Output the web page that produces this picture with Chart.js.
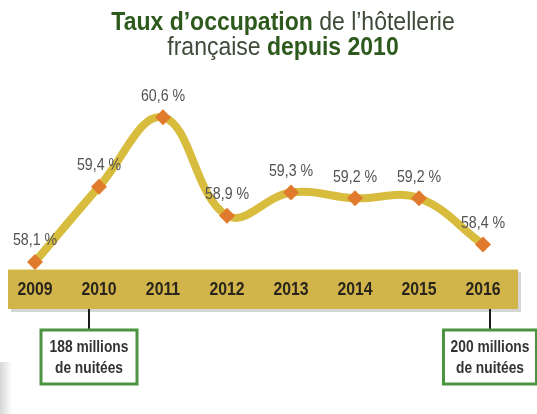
<!DOCTYPE html>
<html>
<head>
<meta charset="utf-8">
<script src="https://cdn.jsdelivr.net/npm/chart.js@4/dist/chart.umd.min.js"></script>
<style>
  html, body { margin: 0; padding: 0; background: #fff; overflow: hidden; }
  #wrap { position: relative; width: 537px; height: 414px; }
</style>
</head>
<body>
<div id="wrap"><canvas id="chart" width="537" height="414"></canvas></div>
<script>
	var years = ['2009', '2010', '2011', '2012', '2013', '2014', '2015', '2016'];
	var taux = [58.1, 59.4, 60.6, 58.9, 59.3, 59.2, 59.2, 58.4];
	var tauxLabels = taux.map(v => v.toFixed(1).replace('.', ',') + ' %');
	var noteYears = ['2010', '2016'];
	var noteTexts = [['188 millions', 'de nuitées'], ['200 millions', 'de nuitées']];

	var FONT = '"Liberation Sans", Arial, sans-serif';

	// narrow-looking text: squeeze horizontally
	function sxText(ctx, t, x, y, sx){
		ctx.save();
		ctx.translate(x, y);
		ctx.scale(sx, 1);
		ctx.fillText(t, 0, 0);
		ctx.restore();
	}

	// title with bold / regular runs, drawn centered
	function drawRuns(ctx, runs, cx, y, size, sx){
		let w = 0;
		runs.forEach(r => {
			ctx.font = (r.bold ? 'bold ' : '') + size + 'px ' + FONT;
			r.w = ctx.measureText(r.t).width * sx;
			w += r.w;
		});
		let x = cx - w / 2;
		ctx.textBaseline = 'alphabetic';
		ctx.textAlign = 'left';
		runs.forEach(r => {
			ctx.font = (r.bold ? 'bold ' : '') + size + 'px ' + FONT;
			ctx.fillStyle = r.bold ? '#2d5a1c' : '#3f4a38';
			sxText(ctx, r.t, x, y, sx);
			x += r.w;
		});
	}

	var decor = {
		id: 'decor',
		beforeDatasetsDraw(chart){
			const ctx = chart.ctx, xs = chart.scales.x, area = chart.chartArea;
			ctx.save();
			// titre
			drawRuns(ctx, [{t: 'Taux d\u2019occupation', bold: 1}, {t: ' de l\u2019hôtellerie'}], 283, 30, 25, 0.92);
			drawRuns(ctx, [{t: 'française '}, {t: 'depuis 2010', bold: 1}], 283, 55, 25, 0.92);

			// bande des années
			const top = area.bottom - 1, h = 40;
			ctx.fillStyle = 'rgba(0,0,0,0.16)';
			ctx.fillRect(11, top + 3, 510, h);
			ctx.fillStyle = '#d2b54a';
			ctx.fillRect(8, top, 510, h);
			ctx.fillStyle = '#f1e4a2';
			ctx.fillRect(8, top, 510, 1);

			ctx.font = 'bold 18px ' + FONT;
			ctx.fillStyle = '#2a251c';
			ctx.textAlign = 'center';
			ctx.textBaseline = 'middle';
			years.forEach((y, i) => sxText(ctx, y, xs.getPixelForValue(i), top + 21, 0.88));

			// encadrés nuitées
			noteYears.forEach((y, k) => {
				const px = xs.getPixelForValue(years.indexOf(y));
				const cx = k == 0 ? px - 10 : px + 7;
				const bw = k == 0 ? 96 : 93;
				ctx.strokeStyle = '#1a1a1a';
				ctx.lineWidth = 2;
				ctx.beginPath();
				ctx.moveTo(cx, top + h);
				ctx.lineTo(cx, 330);
				ctx.stroke();
				ctx.strokeStyle = '#4b9440';
				ctx.lineWidth = 3;
				ctx.fillStyle = '#fff';
				ctx.fillRect(cx - bw / 2, 330, bw, 54);
				ctx.strokeRect(cx - bw / 2, 330, bw, 54);
				ctx.font = 'bold 16px ' + FONT;
				ctx.fillStyle = '#333';
				sxText(ctx, noteTexts[k][0], cx, 348, 0.86);
				sxText(ctx, noteTexts[k][1], cx, 369, 0.86);
			});

			// ombre grise à gauche
			const g = ctx.createLinearGradient(0, 0, 12, 0);
			g.addColorStop(0, 'rgba(120,120,120,0.3)');
			g.addColorStop(1, 'rgba(120,120,120,0)');
			ctx.fillStyle = g;
			ctx.fillRect(0, 362, 12, 52);
			ctx.restore();
		},
		afterDatasetsDraw(chart){
			const ctx = chart.ctx;
			const pts = chart.getDatasetMeta(0).data;
			ctx.save();
			ctx.font = '16.5px ' + FONT;
			ctx.fillStyle = '#525252';
			ctx.textAlign = 'center';
			ctx.textBaseline = 'middle';
			pts.forEach((p, i) => sxText(ctx, tauxLabels[i], p.x, p.y - 21, 0.86));
			ctx.restore();
		}
	};

	new Chart(document.getElementById('chart'), {
		type: 'line',
		data: {
			labels: years,
			datasets: [{
				data: taux,
				borderColor: '#d8bc3e',
				borderWidth: 8,
				tension: 0.4,
				pointStyle: 'rectRot',
				pointRadius: 8,
				pointBackgroundColor: '#e07a2c',
				pointBorderColor: '#e07a2c',
				pointBorderWidth: 0,
				clip: false
			}]
		},
		options: {
			responsive: false,
			animation: false,
			layout: {padding: {left: 35, right: 54, top: 100, bottom: 144}},
			plugins: {legend: {display: false}, tooltip: {enabled: false}},
			scales: {
				x: {display: false},
				y: {display: false, min: 57.96, max: 60.9}
			}
		},
		plugins: [decor]
	});
</script>
</body>
</html>
